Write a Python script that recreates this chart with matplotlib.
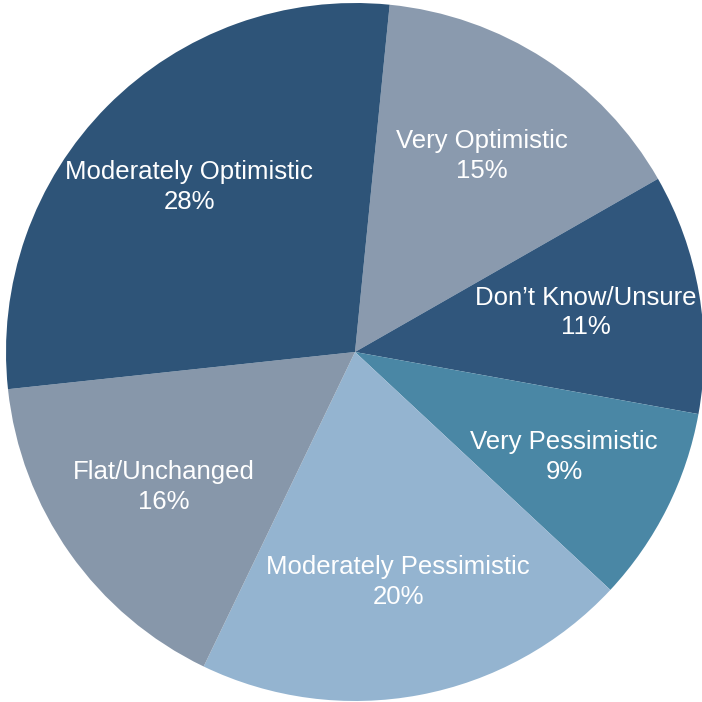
import matplotlib.pyplot as plt

# survey outlook shares, listed clockwise from the top
categories = ["Very Optimistic", "Don\u2019t Know/Unsure", "Very Pessimistic",
              "Moderately Pessimistic", "Flat/Unchanged", "Moderately Optimistic"]
shares = [15, 11, 9, 20, 16, 28]
colors = ["#8a9aae", "#30567c", "#4a87a5", "#94b4d0", "#8797aa", "#2e5478"]

labels = [f"{c}\n{v}%" for c, v in zip(categories, shares)]

fig = plt.figure(figsize=(7.02, 7.02), dpi=100)
ax = fig.add_axes([0, 0, 1, 1])

ax.pie(shares, labels=labels, colors=colors, startangle=84.3, counterclock=False,
       labeldistance=0.67, wedgeprops=dict(linewidth=0),
       textprops=dict(color="white", fontsize=18.5, family="Liberation Sans",
                      ha="center", va="center", multialignment="center",
                      linespacing=1.3))

ax.set_aspect("equal")
ax.set_xlim(-355 / 349, 347 / 349)
ax.set_ylim(-350 / 349, 352 / 349)
ax.axis("off")

fig.savefig("out.png", dpi=100)
